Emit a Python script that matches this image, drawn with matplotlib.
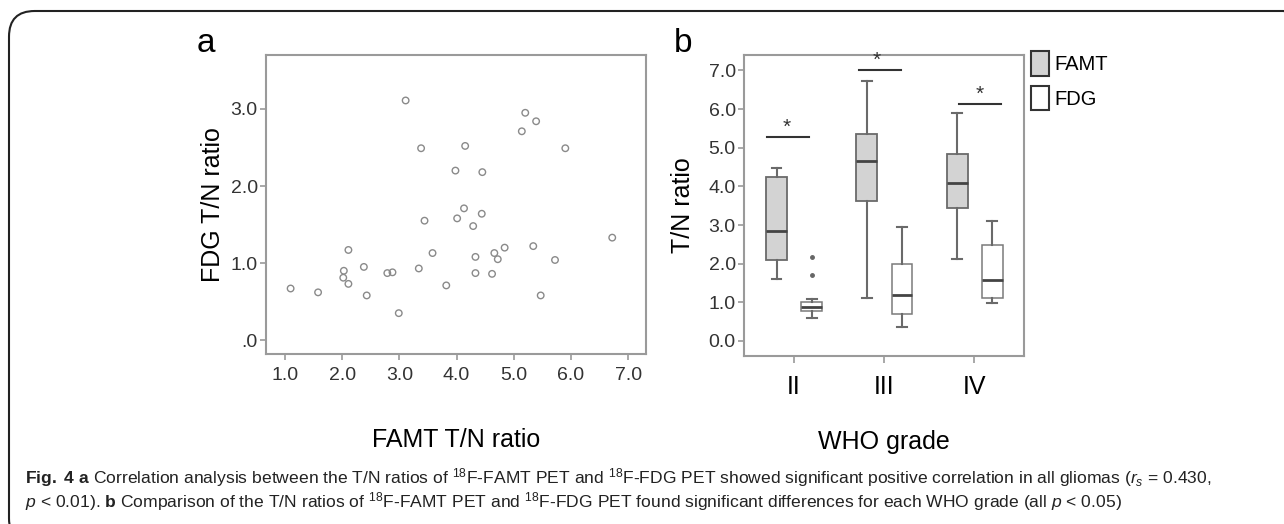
import matplotlib
matplotlib.use("Agg")
import matplotlib.pyplot as plt
from matplotlib.patches import FancyBboxPatch, Patch

plt.rcParams['font.family'] = ['Liberation Sans', 'DejaVu Sans']
plt.rcParams['mathtext.fontset'] = 'custom'
plt.rcParams['mathtext.rm'] = 'Liberation Sans'
plt.rcParams['mathtext.it'] = 'Liberation Sans:italic'
plt.rcParams['mathtext.bf'] = 'Liberation Sans:bold'

# panel a: T/N ratios per patient
famt_tn = [1.10, 1.58, 2.03, 2.02, 2.11, 2.11, 2.38, 2.43, 2.79, 2.88,
           2.99, 3.11, 3.34, 3.38, 3.44, 3.58, 3.82, 3.98, 4.13, 4.15,
           4.01, 4.29, 4.45, 4.44, 4.33, 4.33, 4.66, 4.72, 4.84, 4.62,
           5.20, 5.39, 5.14, 5.90, 5.34, 5.72, 5.47, 6.72]
fdg_tn = [0.67, 0.62, 0.90, 0.81, 1.17, 0.73, 0.95, 0.58, 0.87, 0.88,
          0.35, 3.11, 0.93, 2.49, 1.55, 1.13, 0.71, 2.20, 1.71, 2.52,
          1.58, 1.48, 2.18, 1.64, 1.08, 0.87, 1.13, 1.05, 1.20, 0.86,
          2.95, 2.84, 2.71, 2.49, 1.22, 1.04, 0.58, 1.33]

# panel b: box plot summaries by WHO grade
grades = ["II", "III", "IV"]
famt_whislo = [1.60, 1.11, 2.12]
famt_q1 = [2.09, 3.61, 3.44]
famt_med = [2.85, 4.66, 4.09]
famt_q3 = [4.24, 5.36, 4.84]
famt_whishi = [4.47, 6.74, 5.91]
fdg_whislo = [0.60, 0.37, 0.97]
fdg_q1 = [0.78, 0.70, 1.11]
fdg_med = [0.89, 1.18, 1.57]
fdg_q3 = [1.00, 2.00, 2.49]
fdg_whishi = [1.08, 2.96, 3.10]
fdg_fliers = [[2.18, 1.71], [], []]
sig_y = [5.27, 7.0, 6.12]

W, H = 1284, 524
fig = plt.figure(figsize=(12.84, 5.24), dpi=100)


def frac(x0, y0, x1, y1):
    return [x0 / W, 1 - y1 / H, (x1 - x0) / W, (y1 - y0) / H]


spine_c = '#9a9a9a'
tick_c = '#333333'

# ---- panel a
ax1 = fig.add_axes(frac(266, 55, 646, 354))
ax1.scatter(famt_tn, fdg_tn, s=22, facecolors='none', edgecolors='#8a8a8a', linewidths=1.0)
ax1.set_xlim(0.67, 7.31)
ax1.set_ylim(-0.18, 3.70)
ax1.set_xticks([1, 2, 3, 4, 5, 6, 7])
ax1.set_xticklabels(['1.0', '2.0', '3.0', '4.0', '5.0', '6.0', '7.0'])
ax1.set_yticks([0, 1, 2, 3])
ax1.set_yticklabels(['.0', '1.0', '2.0', '3.0'])
ax1.set_xlabel('FAMT T/N ratio', fontsize=18, labelpad=32)
ax1.set_ylabel('FDG T/N ratio', fontsize=18, labelpad=4)

# ---- panel b
ax2 = fig.add_axes(frac(744, 55, 1024, 356))
pos = [1, 2, 3]
famt_stats = []
fdg_stats = []
for i in range(3):
    famt_stats.append(dict(whislo=famt_whislo[i], q1=famt_q1[i], med=famt_med[i],
                           q3=famt_q3[i], whishi=famt_whishi[i], fliers=[]))
    fdg_stats.append(dict(whislo=fdg_whislo[i], q1=fdg_q1[i], med=fdg_med[i],
                          q3=fdg_q3[i], whishi=fdg_whishi[i], fliers=fdg_fliers[i]))

common = dict(widths=0.23, patch_artist=True, capwidths=0.11,
              medianprops=dict(color='#444444', linewidth=2),
              whiskerprops=dict(color='#6a6a6a', linewidth=1.5),
              capprops=dict(color='#6a6a6a', linewidth=1.5),
              flierprops=dict(marker='o', markersize=2.5, markerfacecolor='#666666',
                              markeredgecolor='#666666'))
ax2.bxp(famt_stats, positions=[p - 0.19 for p in pos],
        boxprops=dict(facecolor='#d3d3d3', edgecolor='#6a6a6a', linewidth=1.3), **common)
ax2.bxp(fdg_stats, positions=[p + 0.20 for p in pos],
        boxprops=dict(facecolor='white', edgecolor='#7a7a7a', linewidth=1.1), **common)

# significance bars
bar_l = [-0.29, -0.28, -0.17]
bar_r = [0.17, 0.19, 0.30]
star_x = [-0.08, -0.08, 0.06]
for i, p in enumerate(pos):
    ax2.plot([p + bar_l[i], p + bar_r[i]], [sig_y[i], sig_y[i]], color='#333333', lw=1.5)
    ax2.text(p + star_x[i], sig_y[i] + 0.02, '*', ha='center', va='bottom',
             fontsize=15, color='#333333')

ax2.set_xlim(0.45, 3.55)
ax2.set_ylim(-0.39, 7.40)
ax2.set_xticks(pos)
ax2.set_xticklabels(grades, fontsize=18, color='black')
ax2.set_yticks(range(8))
ax2.set_yticklabels([f'{v:.1f}' for v in range(8)])
ax2.set_xlabel('WHO grade', fontsize=18, labelpad=22)
ax2.set_ylabel('T/N ratio', fontsize=18, labelpad=10)

handles = [Patch(facecolor='#d3d3d3', edgecolor='#333333', linewidth=1.5, label='FAMT'),
           Patch(facecolor='white', edgecolor='#333333', linewidth=1.5, label='FDG')]
ax2.legend(handles=handles, loc='upper left', bbox_to_anchor=(0.995, 1.04), frameon=False,
           fontsize=14.5, handlelength=0.9, handleheight=1.5, handletextpad=0.3,
           labelspacing=0.5, borderaxespad=0)

for ax in (ax1, ax2):
    for s in ax.spines.values():
        s.set_color(spine_c)
        s.set_linewidth(1.5)
    ax.tick_params(axis='both', colors=spine_c, labelcolor=tick_c, labelsize=14,
                   length=4, width=1.2, pad=2)
ax2.tick_params(axis='x', labelcolor='black', labelsize=18, pad=9, length=5)
ax1.tick_params(axis='x', pad=5)

# panel letters
fig.text(197 / W, 1 - 52 / H, 'a', fontsize=24, va='baseline')
fig.text(674 / W, 1 - 52 / H, 'b', fontsize=24, va='baseline')

# caption
fig.text(25 / W, 1 - 483 / H,
         r"$\mathbf{Fig.\ 4\ a}$ Correlation analysis between the T/N ratios of $^{18}$F-FAMT PET and "
         r"$^{18}$F-FDG PET showed significant positive correlation in all gliomas ($r_s$ = 0.430,",
         fontsize=12.6, color='#222222', va='baseline')
fig.text(25 / W, 1 - 507 / H,
         r"$p$ < 0.01). $\mathbf{b}$ Comparison of the T/N ratios of $^{18}$F-FAMT PET and "
         r"$^{18}$F-FDG PET found significant differences for each WHO grade (all $p$ < 0.05)",
         fontsize=12.6, color='#222222', va='baseline')

# outer frame
frame = FancyBboxPatch((9 / W, -20 / H), 1300 / W, (H - 11 + 20) / H,
                       boxstyle='round,pad=0,rounding_size=0.02',
                       transform=fig.transFigure, fill=False, edgecolor='#222222',
                       linewidth=1.5, clip_on=False, mutation_aspect=W / H)
fig.patches.append(frame)

fig.savefig('out.png', dpi=100)
